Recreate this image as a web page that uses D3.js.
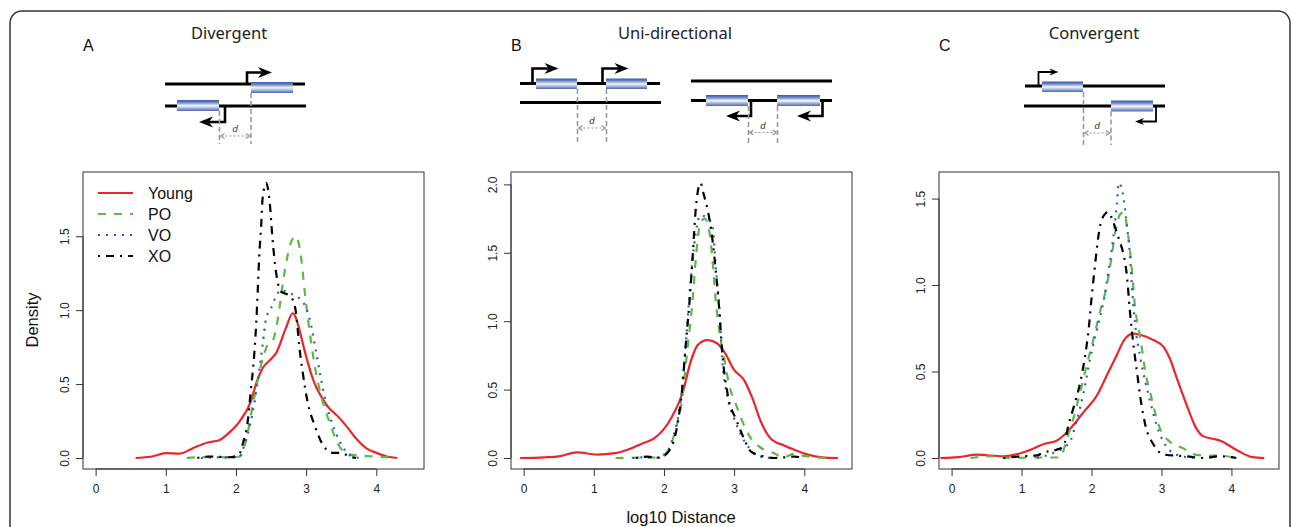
<!DOCTYPE html>
<html>
<head>
<meta charset="utf-8">
<script src="https://cdn.jsdelivr.net/npm/d3@7"></script>
<style>
  body { margin: 0; background: #fff; }
  text { font-family: "Liberation Sans", Arial, sans-serif; }
  .title { font-family: "Noto Sans", "Open Sans", sans-serif; }
</style>
</head>
<body>
<div id="chart"></div>
<script>
// density curves, [log10 distance, density]
const seriesNames = ["Young", "PO", "VO", "XO"];
const panelLetters = ["A", "B", "C"];
const panelTitles = ["Divergent", "Uni-directional", "Convergent"];
const xTicks = [0, 1, 2, 3, 4];
const yTicksA = [0, 0.5, 1, 1.5];
const yTicksB = [0, 0.5, 1, 1.5, 2];
const yTicksC = [0, 0.5, 1, 1.5];

const youngA = [[0.57,0],[0.8,0.01],[1.0,0.033],[1.2,0.03],[1.4,0.07],[1.6,0.105],[1.76,0.12],[1.9,0.17],[2.05,0.246],[2.21,0.38],[2.3,0.52],[2.38,0.607],[2.5,0.67],[2.57,0.708],[2.71,0.877],[2.81,0.979],[2.9,0.877],[2.96,0.76],[3.1,0.53],[3.29,0.36],[3.48,0.268],[3.6,0.2],[3.71,0.133],[3.86,0.065],[4.0,0.035],[4.15,0.01],[4.3,0]];
const poA = [[1.3,0],[1.5,0.006],[1.7,0.008],[1.9,0.003],[2.05,0.01],[2.14,0.11],[2.24,0.36],[2.36,0.63],[2.45,0.765],[2.53,0.8],[2.6,0.95],[2.68,1.22],[2.79,1.465],[2.85,1.5],[2.93,1.35],[2.98,1.126],[3.05,0.855],[3.12,0.63],[3.21,0.427],[3.33,0.246],[3.45,0.099],[3.6,0.025],[3.8,0.015],[4.0,0.01],[4.3,0]];
const voA = [[1.5,0],[1.8,0.005],[2.04,0.003],[2.12,0.088],[2.24,0.313],[2.31,0.517],[2.38,0.765],[2.43,0.945],[2.5,1.013],[2.57,1.092],[2.64,1.137],[2.76,1.115],[2.88,1.09],[3.0,1.013],[3.07,0.9],[3.14,0.72],[3.21,0.54],[3.29,0.359],[3.38,0.223],[3.48,0.11],[3.62,0.02],[3.77,0]];
const xoA = [[1.45,0],[1.62,0.01],[1.9,0.005],[2.04,0.02],[2.1,0.1],[2.17,0.257],[2.21,0.449],[2.26,0.697],[2.29,0.923],[2.31,1.126],[2.33,1.351],[2.36,1.577],[2.38,1.758],[2.43,1.86],[2.48,1.735],[2.52,1.487],[2.57,1.261],[2.64,1.126],[2.74,1.104],[2.81,1.07],[2.86,0.968],[2.9,0.765],[2.95,0.584],[3.02,0.381],[3.12,0.223],[3.24,0.088],[3.38,0.035],[3.5,0.035],[3.6,0.015],[3.71,0]];

const youngB = [[-0.05,0],[0.3,0.005],[0.5,0.012],[0.76,0.041],[1.05,0.025],[1.3,0.035],[1.48,0.06],[1.71,0.11],[1.86,0.143],[2.1,0.289],[2.27,0.484],[2.38,0.703],[2.48,0.825],[2.62,0.861],[2.76,0.837],[2.86,0.776],[3.0,0.644],[3.14,0.571],[3.26,0.437],[3.38,0.267],[3.52,0.143],[3.72,0.09],[3.86,0.06],[4.05,0.025],[4.25,0.005],[4.48,0]];
const poB = [[1.31,0],[1.6,0.002],[1.86,0.003],[2.05,0.046],[2.17,0.217],[2.26,0.435],[2.33,0.776],[2.41,1.165],[2.45,1.432],[2.52,1.72],[2.58,1.75],[2.64,1.676],[2.69,1.457],[2.74,1.14],[2.79,0.922],[2.86,0.727],[2.93,0.532],[3.03,0.387],[3.12,0.265],[3.24,0.143],[3.38,0.075],[3.57,0.035],[3.7,0.005],[3.86,0.03],[4.0,0.015],[4.3,0]];
const voB = [[1.55,0],[1.7,0.005],[1.95,0.003],[2.14,0.167],[2.24,0.435],[2.31,0.825],[2.36,1.165],[2.43,1.555],[2.52,1.774],[2.6,1.76],[2.69,1.7],[2.74,1.384],[2.79,1.092],[2.83,0.727],[2.91,0.435],[3.0,0.29],[3.1,0.167],[3.22,0.07],[3.33,0.02],[3.5,0]];
const xoB = [[1.6,0],[1.76,0.01],[1.93,0.002],[2.07,0.05],[2.19,0.24],[2.26,0.508],[2.31,0.825],[2.36,1.117],[2.41,1.48],[2.45,1.8],[2.52,2.01],[2.57,1.92],[2.62,1.82],[2.69,1.6],[2.74,1.36],[2.79,1.07],[2.83,0.776],[2.91,0.46],[3.03,0.28],[3.14,0.143],[3.24,0.046],[3.43,0.01],[3.57,0],[3.86,0.01],[4.0,0]];

const youngC = [[-0.16,0],[0.1,0.005],[0.36,0.019],[0.74,0.01],[1.03,0.033],[1.12,0.046],[1.31,0.08],[1.5,0.1],[1.6,0.13],[1.7,0.171],[1.89,0.267],[2.08,0.363],[2.22,0.479],[2.36,0.594],[2.48,0.69],[2.6,0.719],[2.72,0.71],[2.89,0.681],[3.03,0.642],[3.12,0.575],[3.22,0.46],[3.36,0.306],[3.5,0.17],[3.6,0.125],[3.75,0.11],[3.84,0.1],[4.1,0.04],[4.3,0.005],[4.47,0]];
const poC = [[0.27,0],[0.54,0.01],[0.84,0],[1.2,0.003],[1.55,0.003],[1.65,0.113],[1.74,0.229],[1.84,0.383],[1.93,0.536],[2.03,0.69],[2.12,0.844],[2.22,0.998],[2.29,1.171],[2.34,1.306],[2.41,1.41],[2.46,1.42],[2.53,1.268],[2.58,1.075],[2.62,0.883],[2.7,0.69],[2.77,0.498],[2.86,0.344],[2.96,0.19],[3.12,0.094],[3.31,0.056],[3.5,0.018],[3.93,0.01],[4.07,0]];
const voC = [[1.22,0],[1.46,0.03],[1.6,0.06],[1.7,0.1],[1.79,0.219],[1.89,0.383],[1.98,0.575],[2.08,0.748],[2.17,0.902],[2.24,1.075],[2.31,1.268],[2.36,1.46],[2.39,1.59],[2.46,1.498],[2.5,1.364],[2.55,1.171],[2.58,0.979],[2.62,0.787],[2.7,0.575],[2.77,0.44],[2.84,0.325],[2.93,0.19],[3.03,0.094],[3.22,0.018],[3.46,0]];
const xoC = [[0.74,0],[1.0,0.01],[1.22,0.015],[1.3,0.03],[1.5,0.048],[1.6,0.067],[1.67,0.19],[1.74,0.287],[1.84,0.44],[1.91,0.594],[1.96,0.748],[2.0,0.921],[2.05,1.114],[2.1,1.287],[2.15,1.383],[2.24,1.422],[2.31,1.364],[2.39,1.268],[2.46,1.171],[2.5,1.075],[2.55,0.844],[2.6,0.652],[2.65,0.498],[2.7,0.344],[2.77,0.19],[2.89,0.075],[3.03,0.02],[3.36,0.01],[3.6,0],[3.84,0.01],[4.07,0]];

const seriesStyle = {
  Young: { color: "#e8262b", dash: null },
  PO:    { color: "#5cb847", dash: "8,8" },
  VO:    { color: "#2f5fb3", dash: "2,6" },
  XO:    { color: "#000000", dash: "2,6,8,6" }
};

const panels = [
  { left: 83,  right: 424,  yTicks: yTicksA, series: [youngA, poA, voA, xoA] },
  { left: 511, right: 852,  yTicks: yTicksB, series: [youngB, poB, voB, xoB] },
  { left: 939, right: 1279, yTicks: yTicksC, series: [youngC, poC, voC, xoC] }
];
const plotTop = 172, plotBottom = 469;

const svg = d3.select("#chart").append("svg")
  .attr("width", 1293).attr("height", 527);

// outer frame
svg.append("rect")
  .attr("x", 10).attr("y", 11).attr("width", 1280).attr("height", 560)
  .attr("rx", 12).attr("fill", "none").attr("stroke", "#333").attr("stroke-width", 1.5);

const grad = svg.append("defs").append("linearGradient")
  .attr("id", "geneGrad").attr("x1", 0).attr("y1", 0).attr("x2", 0).attr("y2", 1);
[["0%", "#3a58a5"], ["22%", "#6c84c3"], ["52%", "#f5f7fc"], ["78%", "#98a9d6"], ["100%", "#4c67b1"]]
  .forEach(s => grad.append("stop").attr("offset", s[0]).attr("stop-color", s[1]));

panels.forEach((p, i) => {
  const seriesList = p.series;
  const yMax = d3.max(seriesList.flat(), d => d[1]);
  const x = d3.scaleLinear().domain([-0.18, 4.68]).range([p.left, p.right]);
  const y = d3.scaleLinear().domain([-0.04 * yMax, 1.04 * yMax]).range([plotBottom, plotTop]);
  const g = svg.append("g");

  const xAxis = g.append("g").attr("transform", `translate(0,${plotBottom})`)
    .call(d3.axisBottom(x).tickValues(xTicks).tickFormat(d3.format("d")).tickSize(7).tickPadding(8));
  xAxis.select(".domain").attr("d", `M${x(0)},0H${x(4)}`);
  const yAxis = g.append("g").attr("transform", `translate(${p.left},0)`)
    .call(d3.axisLeft(y).tickValues(p.yTicks).tickFormat(d3.format(".1f")).tickSize(7).tickPadding(6));
  yAxis.select(".domain").attr("d", `M0,${y(p.yTicks[0])}V${y(p.yTicks[p.yTicks.length - 1])}`);
  yAxis.selectAll(".tick text")
    .attr("transform", "rotate(-90)")
    .attr("x", 0).attr("y", -14).attr("dy", 0)
    .attr("text-anchor", "middle");
  g.selectAll(".tick text").attr("font-size", 12).attr("fill", "#222")
    .attr("font-family", "Liberation Sans, Arial, sans-serif");
  g.selectAll(".domain, .tick line").attr("stroke", "#333");

  g.append("rect")
    .attr("x", p.left).attr("y", plotTop)
    .attr("width", p.right - p.left).attr("height", plotBottom - plotTop)
    .attr("fill", "none").attr("stroke", "#333").attr("stroke-width", 1);

  const line = d3.line().x(d => x(d[0])).y(d => y(d[1])).curve(d3.curveMonotoneX);
  seriesList.forEach((s, k) => {
    const st = seriesStyle[seriesNames[k]];
    g.append("path").datum(s)
      .attr("d", line)
      .attr("fill", "none")
      .attr("stroke", st.color)
      .attr("stroke-width", 2.2)
      .attr("stroke-dasharray", st.dash);
  });

  svg.append("text").attr("x", p.left).attr("y", 51)
    .attr("font-size", 16).attr("fill", "#111").text(panelLetters[i]);
});

// legend in panel A
seriesNames.forEach((name, k) => {
  const ly = 193 + k * 21;
  const st = seriesStyle[name];
  svg.append("line").attr("x1", 98).attr("x2", 133).attr("y1", ly).attr("y2", ly)
    .attr("stroke", st.color).attr("stroke-width", 2.2).attr("stroke-dasharray", st.dash);
  svg.append("text").attr("x", 148).attr("y", ly).attr("dy", "0.36em")
    .attr("font-size", 16).attr("fill", "#111").text(name);
});

// axis titles
svg.append("text").attr("transform", "translate(38,320) rotate(-90)")
  .attr("text-anchor", "middle").attr("font-size", 16.5).attr("fill", "#111").text("Density");
svg.append("text").attr("x", 681).attr("y", 523)
  .attr("text-anchor", "middle").attr("font-size", 16.5).attr("fill", "#111").text("log10 Distance");

// panel titles
const titleX = [229, 675, 1094];
panelTitles.forEach((t, i) => {
  svg.append("text").attr("class", "title").attr("x", titleX[i]).attr("y", 39)
    .attr("text-anchor", "middle").attr("font-size", 16.5).attr("fill", "#222").text(t);
});

// schematic helpers
const dia = svg.append("g");
function strand(x0, x1, yy) {
  dia.append("line").attr("x1", x0).attr("x2", x1).attr("y1", yy).attr("y2", yy)
    .attr("stroke", "#000").attr("stroke-width", 3);
}
function gene(x0, x1, y0, y1) {
  dia.append("rect").attr("x", x0).attr("y", y0).attr("width", x1 - x0).attr("height", y1 - y0)
    .attr("fill", "url(#geneGrad)");
}
function promoter(x0, yS, yT, xE, big) {
  const dir = xE > x0 ? 1 : -1, L = big ? 14 : 9, W = big ? 5.5 : 3.5;
  dia.append("path").attr("d", `M${x0},${yS}V${yT}H${xE - dir * L * 0.6}`)
    .attr("fill", "none").attr("stroke", "#000").attr("stroke-width", big ? 2.6 : 1.8);
  dia.append("path")
    .attr("d", `M${xE},${yT}L${xE - dir * L},${yT - W}L${xE - dir * L * 0.7},${yT}L${xE - dir * L},${yT + W}Z`)
    .attr("fill", "#000");
}
function guide(xx, y0, y1) {
  dia.append("line").attr("x1", xx).attr("x2", xx).attr("y1", y0).attr("y2", y1)
    .attr("stroke", "#999").attr("stroke-width", 1.6).attr("stroke-dasharray", "5,3");
}
function distance(x0, x1, yy) {
  dia.append("line").attr("x1", x0 + 2).attr("x2", x1 - 2).attr("y1", yy).attr("y2", yy)
    .attr("stroke", "#999").attr("stroke-width", 1.2).attr("stroke-dasharray", "2,2");
  dia.append("path").attr("d", `M${x0 + 5},${yy - 2.5}L${x0 + 1},${yy}L${x0 + 5},${yy + 2.5}M${x1 - 5},${yy - 2.5}L${x1 - 1},${yy}L${x1 - 5},${yy + 2.5}`)
    .attr("fill", "none").attr("stroke", "#999").attr("stroke-width", 1.2);
  dia.append("text").attr("x", (x0 + x1) / 2).attr("y", yy - 4).attr("text-anchor", "middle")
    .attr("font-size", 9.5).attr("font-style", "italic").attr("fill", "#333").text("d");
}

// A: divergent
strand(165, 305, 84); strand(165, 306, 106);
gene(251, 293, 82, 93); gene(177, 219, 100, 111);
promoter(247, 84, 72.5, 272, true); promoter(225, 106, 122, 199, true);
guide(219.5, 111, 144); guide(251, 93, 144); distance(219.5, 251, 136);

// B: uni-directional
strand(520, 660, 83.5); strand(520, 661, 102.5);
gene(536, 577, 78.5, 89); gene(606, 647, 78.5, 89);
promoter(532.5, 83.5, 68.5, 558.5, true); promoter(602.5, 83.5, 68.5, 628.5, true);
guide(577.5, 89, 142); guide(606.5, 89, 142); distance(577.5, 606.5, 128);
strand(691, 832, 81); strand(691, 832, 100.5);
gene(706, 748, 95, 106); gene(777, 820, 95, 106);
promoter(751, 100.5, 116, 726, true); promoter(822.5, 100.5, 116, 797, true);
guide(748.5, 106, 143); guide(777.5, 106, 143); distance(748.5, 777.5, 132.5);

// C: convergent
strand(1025, 1165, 86); strand(1024, 1165, 106);
gene(1042, 1083, 81.5, 92); gene(1111, 1153, 100.5, 111.5);
promoter(1038.5, 86, 72, 1058.5, false); promoter(1156, 106, 121.5, 1135, false);
guide(1083.5, 92, 145); guide(1111, 111.5, 145); distance(1083.5, 1111, 133);
</script>
</body>
</html>
